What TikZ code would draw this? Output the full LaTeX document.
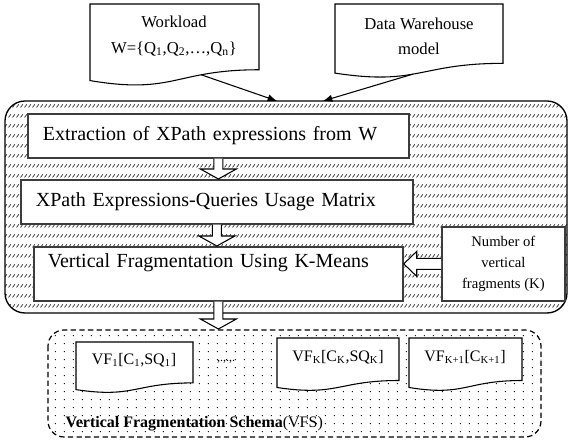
\documentclass[tikz,border=0pt]{standalone}
\usepackage{fontspec}
\setmainfont{Liberation Serif}
\usetikzlibrary{arrows.meta,calc,positioning,patterns}
\definecolor{hatchgray}{RGB}{55,55,55}
\definecolor{boxline}{RGB}{60,60,60}

% rows of short slashes, and a loose grid of dots
\pgfdeclarepatternformonly{slashrows}{\pgfqpoint{-0.5pt}{-0.5pt}}{\pgfqpoint{3.5pt}{8pt}}{\pgfqpoint{3pt}{7.5pt}}{%
  \pgfsetlinewidth{0.55pt}
  \pgfpathmoveto{\pgfqpoint{0.4pt}{2.6pt}}
  \pgfpathlineto{\pgfqpoint{2.1pt}{5pt}}
  \pgfusepath{stroke}}
\pgfdeclarepatternformonly{sparsedots}{\pgfqpoint{0pt}{0pt}}{\pgfqpoint{2pt}{2pt}}{\pgfqpoint{6.75pt}{6pt}}{%
  \pgfpathcircle{\pgfqpoint{1pt}{1pt}}{0.45pt}
  \pgfusepath{fill}}

% document outline: left, right, top, height, extra path bits
\newcommand{\docshape}[5]{%
  \draw[docline] (#1,#3) -- (#2,#3) -- (#2,{#3+0.802*#4})
    .. controls ({(#1+#2)/2},{#3+0.802*#4}) and ({(#1+#2)/2},{#3+1.107*#4}) .. (#1,{#3+0.934*#4}) #5 -- cycle;}
% hollow block arrows
\newcommand{\hollowdown}[2]{%
  \draw[hollow] ($(#1)+(-4.5,0)$) -- ($(#2)+(-4.5,-10)$) -- ($(#2)+(-18,-10)$) -- (#2)
    -- ($(#2)+(18,-10)$) -- ($(#2)+(4.5,-10)$) -- ($(#1)+(4.5,0)$);}
\newcommand{\hollowleft}[2]{%
  \draw[hollow] ($(#1)+(0,-5.5)$) -- ($(#2)+(13,-5.5)$) -- ($(#2)+(13,-12.5)$) -- (#2)
    -- ($(#2)+(13,12.5)$) -- ($(#2)+(13,5.5)$) -- ($(#1)+(0,5.5)$);}

\begin{document}
\begin{tikzpicture}[x=0.75pt,y=-0.75pt]
  \tikzset{
    docline/.style={draw=black,fill=white,line width=0.8pt},
    doctext/.style={align=center,font=\fontsize{12.5}{19}\selectfont},
    vftext/.style={font=\fontsize{12}{14}\selectfont},
    procbox/.style={draw=boxline,fill=white,line width=1.3pt,anchor=north west,align=left,
      font=\fontsize{15}{18}\selectfont},
    hollow/.style={draw=black,fill=white,line width=0.8pt,line join=miter},
    feed/.style={-{Latex[length=7pt,width=5.5pt]},line width=0.8pt},
  }
  \useasboundingbox (0,0) rectangle (569,441);
  % ---------------- inputs
  \docshape{90}{259}{4}{82}{coordinate[pos=0.3] (wlout)}
  \docshape{335}{503}{4}{74}{coordinate[pos=0.55] (dwout)}
  \node[doctext] (wl) at (174,36) {Workload\\W=\{Q\textsubscript{1},Q\textsubscript{2},\ldots,Q\textsubscript{n}\}};
  \node[doctext] (dw) at (419,36) {Data Warehouse\\model};
  % ---------------- process frame
  \draw[line width=1pt,pattern=slashrows,pattern color=hatchgray,rounded corners=15pt] (5,101) rectangle (567,313);
  \coordinate (in1) at (277,101);
  \coordinate (in2) at (323,101);
  \draw[feed] (wlout) -- (in1);
  \draw[feed] (dwout) -- (in2);
  \node[procbox,text width=263.25pt,inner xsep=11.25pt,minimum height=33pt] (ex) at (27,113)
    {Extraction of XPath expressions from W};
  \node[procbox,text width=271.5pt,inner xsep=11.25pt,minimum height=33pt] (xq) at (20,179)
    {XPath Expressions-Queries Usage Matrix};
  \node[procbox,text width=255.75pt,inner xsep=10.5pt,inner ysep=5pt,text height=10.5pt,text depth=20pt] (kb) at (33,246)
    {Vertical Fragmentation Using K-Means};
  \node[procbox,align=center,font=\fontsize{11}{15.5}\selectfont,minimum width=92.25pt,minimum height=55.5pt,inner sep=2pt] (nk) at (441,226)
    {Number of\\vertical\\fragments (K)};
  \coordinate (t1) at (ex.south |- xq.north);
  \coordinate (t2) at (xq.south |- kb.north);
  \coordinate (t4) at (nk.west -| kb.east);
  \hollowdown{ex.south}{t1}
  \hollowdown{xq.south}{t2}
  \hollowleft{nk.west}{t4}
  % ---------------- output schema
  \draw[line width=0.9pt,dash pattern=on 4pt off 2.5pt,pattern=sparsedots,rounded corners=12pt] (48,330) rectangle (541,437);
  \coordinate (vfs) at (48,329);
  \coordinate (t3) at (kb.south |- vfs);
  \hollowdown{kb.south}{t3}
  \docshape{76}{193}{342}{51}{}
  \docshape{277}{399}{338}{53}{}
  \docshape{409}{522}{338}{53}{}
  \node[vftext] (vf1) at (134,360) {VF\textsubscript{1}[C\textsubscript{1},SQ\textsubscript{1}]};
  \node[font=\fontsize{9}{10}\selectfont] (gap) at (226,362) {,.,.,.};
  \node[vftext] (vfk) at (338,357) {VF\textsubscript{K}[C\textsubscript{K},SQ\textsubscript{K}]};
  \node[vftext] (vfk1) at (465,357) {VF\textsubscript{K+1}[C\textsubscript{K+1}]};
  \node[vftext,anchor=west] (vfslab) at (61,424) {\textbf{Vertical Fragmentation Schema}(VFS)};
\end{tikzpicture}
\end{document}
